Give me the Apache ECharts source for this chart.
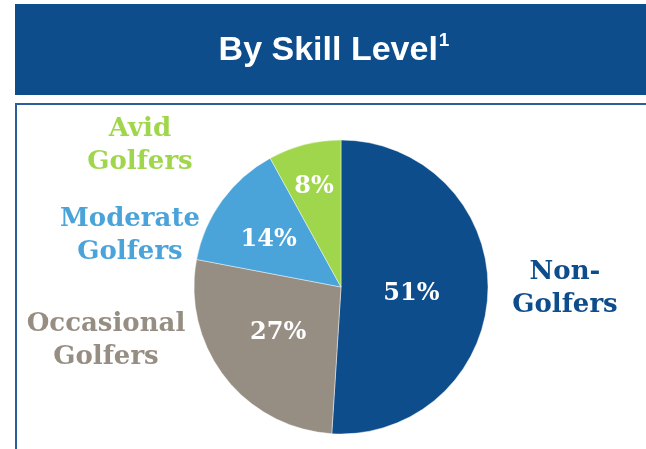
<!DOCTYPE html>
<html>
<head>
<meta charset="utf-8">
<script src="https://cdn.jsdelivr.net/npm/echarts@6/dist/echarts.min.js"></script>
<style>
  html, body { margin: 0; padding: 0; background: #ffffff; }
  #chart { width: 646px; height: 449px; }
</style>
</head>
<body>
<div id="chart"></div>
<script>
// Golfer population split by skill level (percent)
const categories = ['Non-Golfers', 'Occasional Golfers', 'Moderate Golfers', 'Avid Golfers'];
const shares = [51, 27, 14, 8];
const sliceColors = ['#0d4d8b', '#978e83', '#4ba4d9', '#a0d64b'];
const nameLabelLines = [['Non-', 'Golfers'], ['Occasional', 'Golfers'], ['Moderate', 'Golfers'], ['Avid', 'Golfers']];

// Layout
const CX = 341, CY = 287, R = 147;
const nameLabelPos = [[565, 289], [106, 341], [130, 236], [140, 146]];
// radial position of each percentage label, as a fraction of the radius,
// plus a small vertical nudge in pixels
const valueLabelRadius = [0.46, 0.52, 0.585, 0.71];
const valueLabelNudgeY = [5, -3, 5, 5];

const chart = echarts.init(document.getElementById('chart'), null, { renderer: 'canvas' });

const serif = '"DejaVu Serif", Georgia, serif';

const nameTexts = categories.map((c, i) => ({
  type: 'text',
  x: nameLabelPos[i][0],
  y: nameLabelPos[i][1],
  z: 10,
  style: {
    text: nameLabelLines[i].join('\n'),
    font: 'bold 26px ' + serif,
    fill: sliceColors[i],
    align: 'center',
    verticalAlign: 'middle',
    lineHeight: 33
  }
}));

chart.setOption({
  animation: false,
  backgroundColor: '#ffffff',
  graphic: [
    // title banner
    { type: 'rect', shape: { x: 15, y: 4, width: 640, height: 91 }, style: { fill: '#0d4d8b' }, z: 1 },
    {
      type: 'text', x: 334, y: 51, z: 2,
      style: {
        text: '{t|By Skill Level}{s|1}',
        align: 'center', verticalAlign: 'middle',
        rich: {
          t: { font: 'bold 34px "Liberation Sans", Arial, sans-serif', fill: '#ffffff', lineHeight: 40 },
          s: { font: 'bold 19px "Liberation Sans", Arial, sans-serif', fill: '#ffffff', verticalAlign: 'top', lineHeight: 40, padding: [0, 0, 14, 1] }
        }
      }
    },
    // content frame
    { type: 'polyline', shape: { points: [[16, 460], [16, 104], [660, 104]] }, style: { stroke: '#2a5f9e', lineWidth: 2, fill: null }, z: 1 }
  ].concat(nameTexts),
  series: [{
    type: 'pie',
    center: [CX, CY],
    radius: [0, R],
    startAngle: 90,
    clockwise: true,
    avoidLabelOverlap: false,
    data: categories.map((c, i) => ({ name: c, value: shares[i], itemStyle: { color: sliceColors[i] } })),
    itemStyle: { borderColor: 'rgba(255,255,255,0.55)', borderWidth: 0.8 },
    label: {
      show: true,
      position: 'inner',
      formatter: '{c}%',
      color: '#ffffff',
      fontFamily: serif,
      fontWeight: 'bold',
      fontSize: 24
    },
    labelLine: { show: false },
    labelLayout: function (params) {
      const rect = params.labelRect;
      const lx = rect.x + rect.width / 2;
      const ly = rect.y + rect.height / 2;
      const i = params.dataIndex;
      const k = valueLabelRadius[i] / 0.5 - 1;
      return { dx: (lx - CX) * k, dy: (ly - CY) * k + valueLabelNudgeY[i] };
    },
    emphasis: { disabled: true }
  }]
});
</script>
</body>
</html>
